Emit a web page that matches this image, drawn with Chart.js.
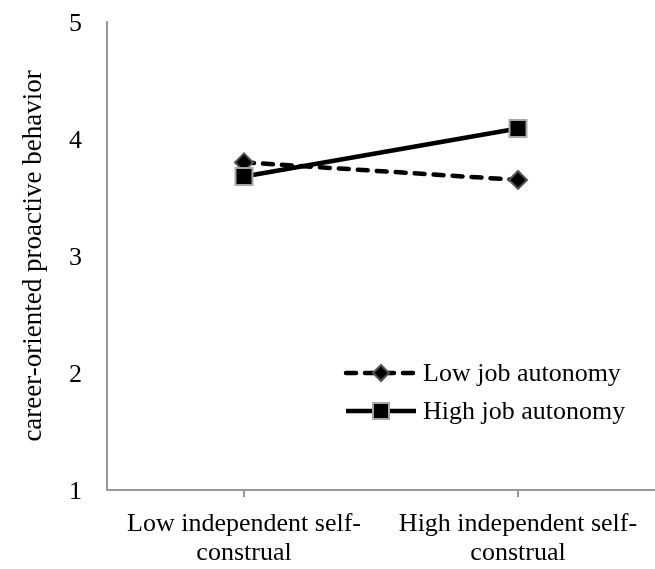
<!DOCTYPE html>
<html>
<head>
<meta charset="utf-8">
<script src="https://cdn.jsdelivr.net/npm/chart.js@4"></script>
<style>
  html, body { margin: 0; padding: 0; background: #fff; }
  #wrap { width: 655px; height: 569px; }
</style>
</head>
<body>
<div id="wrap"><canvas id="c" width="655" height="569"></canvas></div>
<script>
const categories = [["Low independent self-", "construal"], ["High independent self-", "construal"]];
const lowAutonomy = [3.80, 3.65];
const highAutonomy = [3.68, 4.09];
const seriesNames = ["Low job autonomy", "High job autonomy"];
const yTicks = [1, 2, 3, 4, 5];
const yTitle = "career-oriented proactive behavior";

const FONT = "'Liberation Serif', 'Times New Roman', serif";
const AXIS_GRAY = "#999999";

const legendPlugin = {
  id: 'lineLegend',
  afterDraw(chart) {
    const ctx = chart.ctx;
    const items = [
      { ds: chart.data.datasets[1], y: 373 },
      { ds: chart.data.datasets[0], y: 411 }
    ];
    items.forEach(it => {
      const ds = it.ds;
      const x0 = 346, x1 = 416, xm = 381;
      ctx.save();
      ctx.strokeStyle = ds.borderColor;
      ctx.lineWidth = ds.borderWidth;
      ctx.lineCap = ds.borderCapStyle || 'butt';
      ctx.setLineDash(ds.borderDash || []);
      ctx.beginPath();
      ctx.moveTo(x0, it.y);
      ctx.lineTo(x1, it.y);
      ctx.stroke();
      ctx.setLineDash([]);
      ctx.fillStyle = ds.pointBackgroundColor;
      ctx.strokeStyle = ds.pointBorderColor;
      ctx.lineWidth = ds.pointBorderWidth;
      ctx.beginPath();
      if (ds.pointStyle === 'rect') {
        const s = ds.legendMarker;
        ctx.rect(xm - s, it.y - s, 2 * s, 2 * s);
      } else {
        const r = ds.legendMarker;
        ctx.moveTo(xm - r, it.y);
        ctx.lineTo(xm, it.y - r);
        ctx.lineTo(xm + r, it.y);
        ctx.lineTo(xm, it.y + r);
        ctx.closePath();
      }
      ctx.fill();
      ctx.stroke();
      ctx.fillStyle = '#000';
      ctx.font = "26px " + FONT;
      ctx.textAlign = 'left';
      ctx.textBaseline = 'middle';
      ctx.fillText(ds.label, 423, it.y + 1);
      ctx.restore();
    });
  }
};

new Chart(document.getElementById('c'), {
  type: 'line',
  data: {
    labels: categories,
    datasets: [
      {
        label: seriesNames[1],
        data: highAutonomy,
        order: 0,
        borderColor: '#000',
        borderWidth: 4.5,
        borderCapStyle: 'butt',
        pointStyle: 'rect',
        pointRadius: 12,
        pointHoverRadius: 12,
        pointBackgroundColor: '#000',
        pointBorderColor: '#a6a6a6',
        pointBorderWidth: 2,
        legendMarker: 8,
        tension: 0,
        fill: false
      },
      {
        label: seriesNames[0],
        data: lowAutonomy,
        order: 1,
        borderColor: '#000',
        borderWidth: 4.5,
        borderDash: [10, 9],
        borderCapStyle: 'round',
        pointStyle: 'rectRot',
        pointRadius: 9,
        pointHoverRadius: 9,
        pointBackgroundColor: '#000',
        pointBorderColor: '#555555',
        pointBorderWidth: 2,
        legendMarker: 8,
        tension: 0,
        fill: false
      }
    ]
  },
  options: {
    responsive: false,
    animation: false,
    events: [],
    layout: { autoPadding: false, padding: { top: 22, right: 0, left: 0, bottom: 0 } },
    plugins: {
      legend: { display: false },
      tooltip: { enabled: false },
      title: { display: false }
    },
    scales: {
      x: {
        type: 'category',
        offset: true,
        grid: {
          display: true,
          drawOnChartArea: false,
          drawTicks: true,
          tickLength: 7,
          color: AXIS_GRAY,
          lineWidth: 2,
          offset: false
        },
        border: { display: true, color: AXIS_GRAY, width: 2 },
        ticks: {
          color: '#000',
          font: { family: FONT, size: 26, lineHeight: 1.1 },
          padding: 13,
          maxRotation: 0,
          autoSkip: false
        },
        afterFit(scale) {
          scale.height = 79;
          scale.paddingLeft = 0;
          scale.paddingRight = 0;
        }
      },
      y: {
        min: 1,
        max: 5,
        afterBuildTicks(scale) { scale.ticks = yTicks.map(v => ({ value: v })); },
        grid: { display: false, drawTicks: false },
        border: { display: true, color: AXIS_GRAY, width: 2 },
        ticks: {
          color: '#000',
          font: { family: FONT, size: 26 },
          padding: 25,
          labelOffset: 2
        },
        title: {
          display: true,
          text: yTitle,
          color: '#000',
          font: { family: FONT, size: 27 },
          padding: { top: 18, bottom: 0 }
        },
        afterFit(scale) {
          scale.width = 107;
          scale.paddingTop = 0;
          scale.paddingBottom = 0;
        }
      }
    }
  },
  plugins: [legendPlugin]
});
</script>
</body>
</html>
